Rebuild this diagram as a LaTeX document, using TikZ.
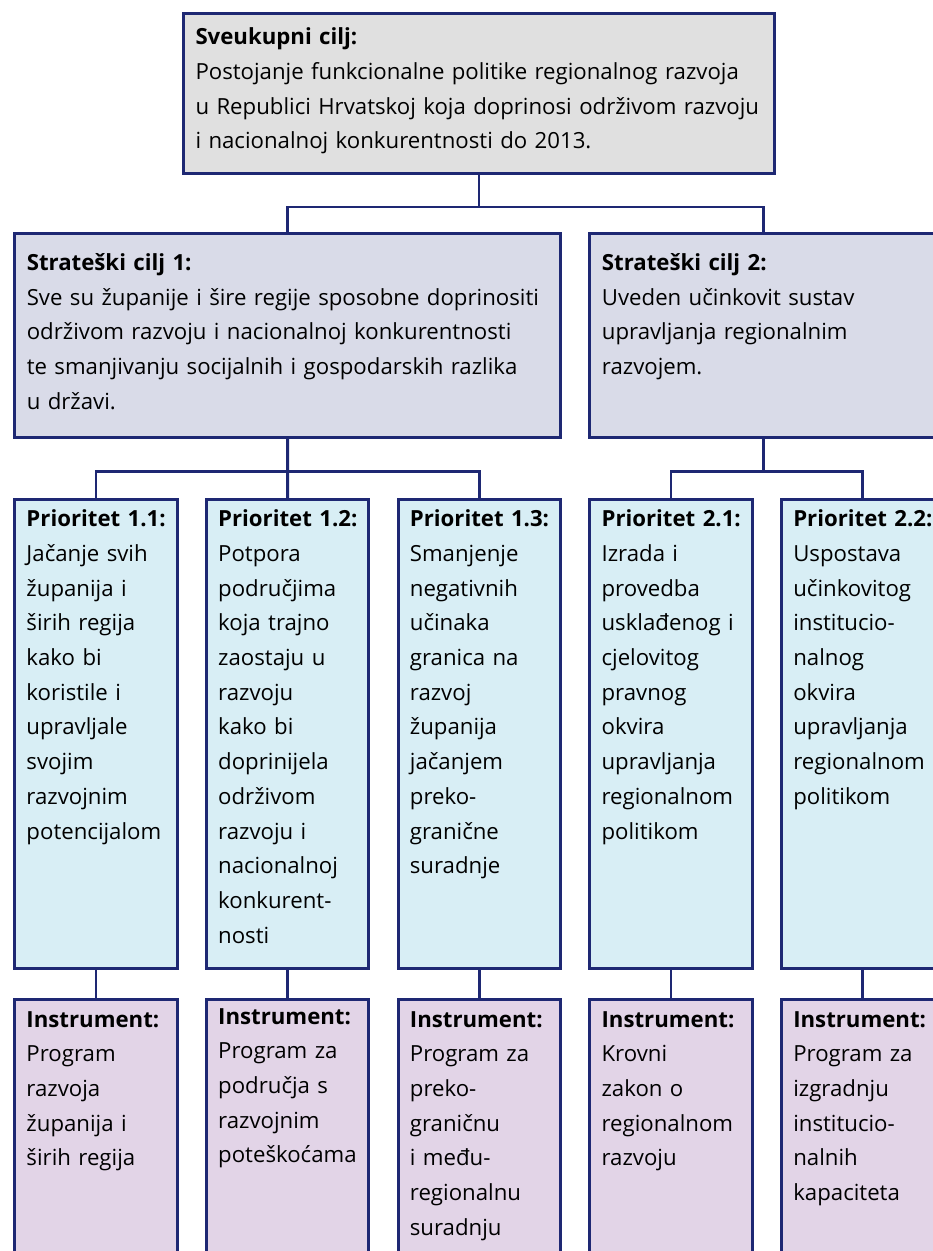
\documentclass[tikz,border=0pt]{standalone}
\usepackage{fontspec}
\setmainfont{Open Sans}
\definecolor{navy}{RGB}{30,40,115}
\definecolor{topfill}{RGB}{224,224,224}
\definecolor{stratfill}{RGB}{217,219,232}
\definecolor{prifill}{RGB}{216,238,245}
\definecolor{insfill}{RGB}{226,212,231}
\tikzset{
  boxbase/.style={draw=navy, line width=2.8bp, rectangle, inner sep=0pt, anchor=north west},
  topbox/.style={boxbase, fill=topfill, minimum width=591bp, minimum height=160bp},
  stratbox/.style={boxbase, fill=stratfill, minimum height=204bp},
  pribox/.style={boxbase, fill=prifill, minimum width=162.4bp, minimum height=469bp},
  insbox/.style={boxbase, fill=insfill, minimum width=162.4bp, minimum height=320bp},
  txt/.style={anchor=base west, text width=640bp, align=left, inner sep=0pt,
    font={\fontsize{22.2bp}{34.7bp}\selectfont}},
  link/.style={draw=navy, line width=2.8bp},
}
\begin{document}
\begin{tikzpicture}[x=1bp, y=-1bp]
\useasboundingbox (0,0) rectangle (933,1251);
\clip (0,0) rectangle (933,1251);
\fill[white] (0,0) rectangle (933,1251);
% boxes
\node[topbox] (top) at (182,12) {};
\node[stratbox, minimum width=545.8bp] (s1) at (13.3,232) {};
\node[stratbox, minimum width=347.8bp] (s2) at (588.4,232) {};
\node[pribox] (p11) at (13.3,498) {};
\node[pribox] (p12) at (205,498) {};
\node[pribox] (p13) at (396.7,498) {};
\node[pribox] (p21) at (588.4,498) {};
\node[pribox] (p22) at (780.1,498) {};
\node[insbox] (i11) at (13.3,998) {};
\node[insbox] (i12) at (205,998) {};
\node[insbox] (i13) at (396.7,998) {};
\node[insbox] (i21) at (588.4,998) {};
\node[insbox] (i22) at (780.1,998) {};
% connectors
\coordinate (j0) at (top.south |- 0,207);
\draw[link] (top.south) -- (j0);
\draw[link] (s1.north) |- (j0) -| (s2.north);
\coordinate (j1) at (s1.south |- 0,471.7);
\draw[link] (s1.south) -- (p12.north);
\draw[link] (p11.north) |- (j1) -| (p13.north);
\coordinate (j2) at (s2.south |- 0,471.7);
\draw[link] (s2.south) -- (j2);
\draw[link] (p21.north) |- (j2) -| (p22.north);
\draw[link] (p11.south) -- (i11.north);
\draw[link] (p12.south) -- (i12.north);
\draw[link] (p13.south) -- (i13.north);
\draw[link] (p21.south) -- (i21.north);
\draw[link] (p22.south) -- (i22.north);
% texts
\node[txt] (ttop) at ([shift={(13.3,32.7)}]top.north west) {\textbf{Sveukupni cilj:}\\
\makebox[564bp][s]{Postojanje funkcionalne politike regionalnog razvoja}\\
\makebox[564bp][s]{u Republici Hrvatskoj koja doprinosi održivom razvoju}\\
i nacionalnoj konkurentnosti do 2013.};
\node[txt] (ts1) at ([shift={(13.3,38.3)}]s1.north west) {\textbf{Strateški cilj 1:}\\
Sve su županije i šire regije sposobne doprinositi\\
održivom razvoju i nacionalnoj konkurentnosti\\
te smanjivanju socijalnih i gospodarskih razlika\\
u državi.};
\node[txt] (ts2) at ([shift={(13.3,38.3)}]s2.north west) {\textbf{Strateški cilj 2:}\\
Uveden učinkovit sustav\\
upravljanja regionalnim\\
razvojem.};
\node[txt] (tp11) at ([shift={(13,28.7)}]p11.north west) {\textbf{Prioritet 1.1:}\\
Jačanje svih\\ županija i\\ širih regija\\ kako bi\\ koristile i\\ upravljale\\ svojim\\ razvojnim\\ potencijalom};
\node[txt] (tp12) at ([shift={(13,28.7)}]p12.north west) {\textbf{Prioritet 1.2:}\\
Potpora\\ područjima\\ koja trajno\\ zaostaju u\\ razvoju\\ kako bi\\ doprinijela\\ održivom\\ razvoju i\\ nacionalnoj\\ konkurent-\\ nosti};
\node[txt] (tp13) at ([shift={(13,28.7)}]p13.north west) {\textbf{Prioritet 1.3:}\\
Smanjenje\\ negativnih\\ učinaka\\ granica na\\ razvoj\\ županija\\ jačanjem\\ preko-\\ granične\\ suradnje};
\node[txt] (tp21) at ([shift={(13,28.7)}]p21.north west) {\textbf{Prioritet 2.1:}\\
Izrada i\\ provedba\\ usklađenog i\\ cjelovitog\\ pravnog\\ okvira\\ upravljanja\\ regionalnom\\ politikom};
\node[txt] (tp22) at ([shift={(13,28.7)}]p22.north west) {\textbf{Prioritet 2.2:}\\
Uspostava\\ učinkovitog\\ institucio-\\ nalnog\\ okvira\\ upravljanja\\ regionalnom\\ politikom};
\node[txt] (ti11) at ([shift={(13,29)}]i11.north west) {\textbf{Instrument:}\\
Program\\ razvoja\\ županija i\\ širih regija};
\node[txt] (ti12) at ([shift={(13,26)}]i12.north west) {\textbf{Instrument:}\\
Program za\\ područja s\\ razvojnim\\ poteškoćama};
\node[txt] (ti13) at ([shift={(13,29)}]i13.north west) {\textbf{Instrument:}\\
Program za\\ preko-\\ graničnu\\ i među-\\ regionalnu\\ suradnju};
\node[txt] (ti21) at ([shift={(13,29)}]i21.north west) {\textbf{Instrument:}\\
Krovni\\ zakon o\\ regionalnom\\ razvoju};
\node[txt] (ti22) at ([shift={(13,29)}]i22.north west) {\textbf{Instrument:}\\
Program za\\ izgradnju\\ institucio-\\ nalnih\\ kapaciteta};
\end{tikzpicture}
\end{document}
